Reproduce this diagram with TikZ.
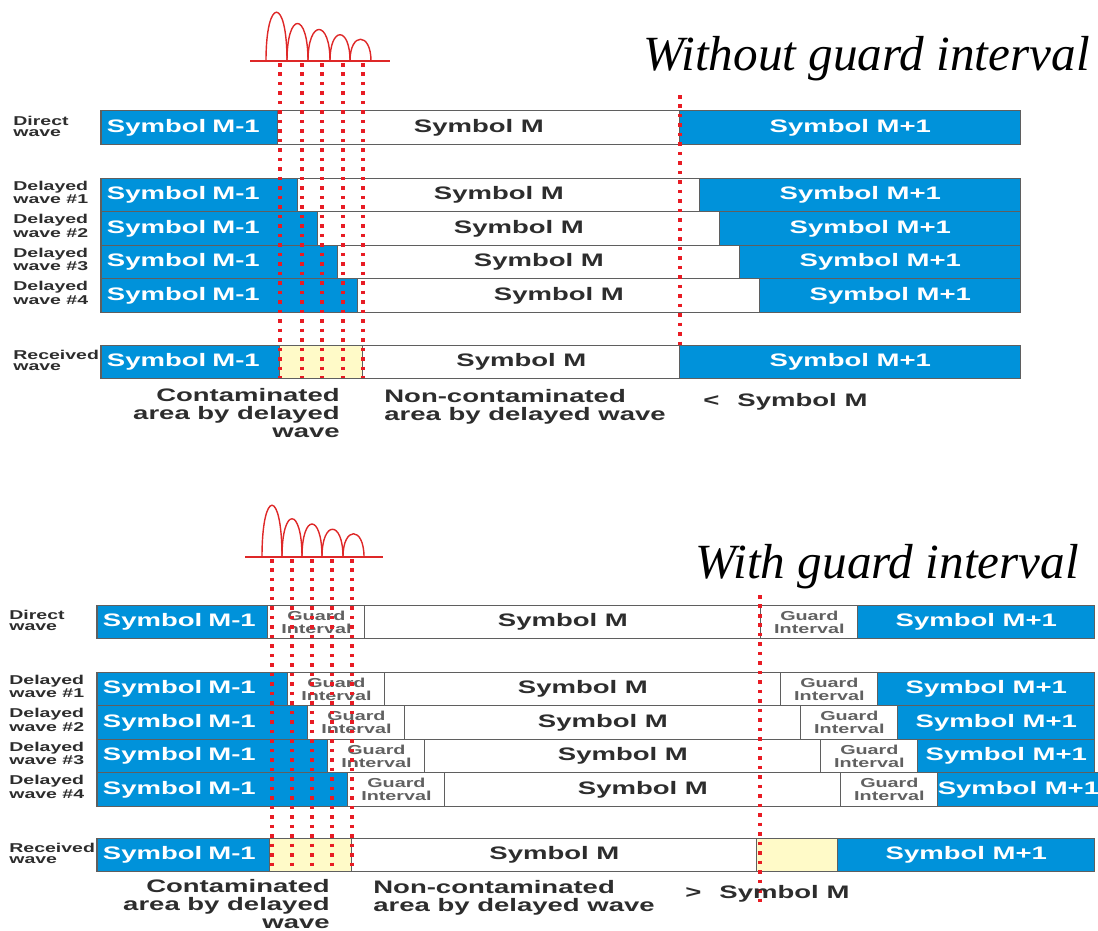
\documentclass[tikz,border=0pt]{standalone}
\usepackage{fontspec}
\setmainfont{Liberation Serif}
\newfontfamily\wavefont[FakeStretch=1.52]{Liberation Sans}
\usetikzlibrary{positioning}

\definecolor{symblue}{RGB}{0,146,218}
\definecolor{contam}{RGB}{255,250,200}
\definecolor{dotred}{RGB}{232,28,36}
\definecolor{pulsered}{RGB}{222,40,40}
\definecolor{inkgray}{RGB}{45,45,45}
\definecolor{edgegray}{RGB}{95,95,95}

\begin{document}
\begin{tikzpicture}[
  x=0.02cm, y=-0.02cm,
  cell/.style={draw=edgegray, line width=0.6pt, inner sep=0pt, outer sep=0pt, minimum height=0.67cm, text=inkgray, font=\wavefont\bfseries\fontsize{10.3}{11}\selectfont},
  prevsym/.style={cell, fill=symblue, text=white, anchor=west, align=left, inner xsep=0.12cm},
  cursym/.style={cell, fill=white},
  nextsym/.style={cell, fill=symblue, text=white},
  guard/.style={cell, fill=white, text=inkgray!75, align=center, minimum width=1.94cm, font=\wavefont\bfseries\fontsize{7.4}{7.4}\selectfont},
  dirty/.style={cell, fill=contam},
  rowlab/.style={anchor=base west, align=left, inner sep=0pt, text=inkgray, font=\wavefont\bfseries\fontsize{7.3}{6.3}\selectfont},
  note/.style={inner sep=0pt, text=inkgray, font=\wavefont\bfseries\fontsize{10.3}{10}\selectfont},
  title/.style={anchor=base west, inner sep=0pt, font=\itshape\fontsize{28}{30}\selectfont},
  pulse/.style={pulsered, line width=0.8pt},
  marker/.style={dotred, line width=2pt, dash pattern=on 2pt off 3.4pt},
]
\useasboundingbox (0,0) rectangle (1098,930);

%%%%% Without guard interval %%%%%
\node[title] (ttitle) at (643,70) {Without guard interval};

% Delay profile
\draw[pulse] (250,61) -- (390,61);
\draw[pulse] (266,61) .. controls (266,-4) and (287,-4) .. (287,61);
\draw[pulse] (287,61) .. controls (287,11) and (308,11) .. (308,61);
\draw[pulse] (308,61) .. controls (308,19) and (330,19) .. (330,61);
\draw[pulse] (330,61) .. controls (330,26) and (350,26) .. (350,61);
\draw[pulse] (350,61) .. controls (350,32) and (371,32) .. (371,61);

% Direct wave
\node[rowlab] (tlabd) at (13,136.5) {Direct\\wave};
\node[prevsym, text width=3.30cm] (tdp) at (101,127.5) {Symbol~M-1};
\node[cursym, minimum width=8.04cm, right=0pt of tdp] (tdm) {Symbol M};
\node[nextsym, minimum width=6.82cm, right=0pt of tdm] (tdn) {Symbol M+1};

% Delayed waves
\node[rowlab] (tlab1) at (13,203.5) {Delayed\\wave \#1};
\node[prevsym, text width=3.70cm] (t1p) at (101,195) {Symbol~M-1};
\node[cursym, minimum width=8.04cm, right=0pt of t1p] (t1m) {Symbol M};
\node[nextsym, minimum width=6.42cm, right=0pt of t1m] (t1n) {Symbol M+1};

\node[rowlab] (tlab2) at (13,237) {Delayed\\wave \#2};
\node[prevsym, text width=4.10cm] (t2p) at (101,228.5) {Symbol~M-1};
\node[cursym, minimum width=8.04cm, right=0pt of t2p] (t2m) {Symbol M};
\node[nextsym, minimum width=6.02cm, right=0pt of t2m] (t2n) {Symbol M+1};

\node[rowlab] (tlab3) at (13,270.5) {Delayed\\wave \#3};
\node[prevsym, text width=4.50cm] (t3p) at (101,262) {Symbol~M-1};
\node[cursym, minimum width=8.04cm, right=0pt of t3p] (t3m) {Symbol M};
\node[nextsym, minimum width=5.62cm, right=0pt of t3m] (t3n) {Symbol M+1};

\node[rowlab] (tlab4) at (13,304) {Delayed\\wave \#4};
\node[prevsym, text width=4.90cm] (t4p) at (101,295.5) {Symbol~M-1};
\node[cursym, minimum width=8.04cm, right=0pt of t4p] (t4m) {Symbol M};
\node[nextsym, minimum width=5.22cm, right=0pt of t4m] (t4n) {Symbol M+1};

% Received wave
\node[rowlab] (tlabr) at (13,370.5) {Received\\wave};
\node[prevsym, text width=3.34cm] (trp) at (101,362) {Symbol~M-1};
\node[dirty, minimum width=1.66cm, right=0pt of trp] (trd) {};
\node[cursym, minimum width=6.34cm, right=0pt of trd] (trm) {Symbol M};
\node[nextsym, minimum width=6.82cm, right=0pt of trm] (trn) {Symbol M+1};

% Path boundaries
\draw[marker] (280,63) -- (280,378);
\draw[marker] (302,63) -- (302,378);
\draw[marker] (322,63) -- (322,378);
\draw[marker] (343,63) -- (343,378);
\draw[marker] (363,63) -- (363,378);
\draw[marker] (680,95) -- (680,346);

% Notes
\node[note, align=right, anchor=base east] (tcont) at (340,437) {Contaminated\\area by delayed\\wave};
\node[note, align=left, anchor=base west] (tclean) at (384,420) {Non-contaminated\\area by delayed wave};
\node[note, anchor=base west] (tcmp) at (703,406) {<\quad Symbol M};

%%%%% With guard interval %%%%%
\node[title] (gtitle) at (695,578) {With guard interval};

% Delay profile
\draw[pulse] (245,557) -- (383,557);
\draw[pulse] (262,557) .. controls (262,488) and (282,488) .. (282,557);
\draw[pulse] (282,557) .. controls (282,506) and (302,506) .. (302,557);
\draw[pulse] (302,557) .. controls (302,513) and (322,513) .. (322,557);
\draw[pulse] (322,557) .. controls (322,520) and (343,520) .. (343,557);
\draw[pulse] (343,557) .. controls (343,526) and (364,526) .. (364,557);

% Direct wave
\node[rowlab] (glabd) at (9,630.5) {Direct\\wave};
\node[prevsym, text width=3.18cm] (gdp) at (97,622) {Symbol~M-1};
\node[guard, right=0pt of gdp] (gdg) {Guard\\Interval};
\node[cursym, minimum width=7.92cm, right=0pt of gdg] (gdm) {Symbol M};
\node[guard, right=0pt of gdm] (gdh) {Guard\\Interval};
\node[nextsym, minimum width=4.74cm, right=0pt of gdh] (gdn) {Symbol M+1};

% Delayed waves
\node[rowlab] (glab1) at (9,697.5) {Delayed\\wave \#1};
\node[prevsym, text width=3.58cm] (g1p) at (97,689) {Symbol~M-1};
\node[guard, right=0pt of g1p] (g1g) {Guard\\Interval};
\node[cursym, minimum width=7.92cm, right=0pt of g1g] (g1m) {Symbol M};
\node[guard, right=0pt of g1m] (g1h) {Guard\\Interval};
\node[nextsym, minimum width=4.34cm, right=0pt of g1h] (g1n) {Symbol M+1};

\node[rowlab] (glab2) at (9,731) {Delayed\\wave \#2};
\node[prevsym, text width=3.98cm] (g2p) at (97,722.5) {Symbol~M-1};
\node[guard, right=0pt of g2p] (g2g) {Guard\\Interval};
\node[cursym, minimum width=7.92cm, right=0pt of g2g] (g2m) {Symbol M};
\node[guard, right=0pt of g2m] (g2h) {Guard\\Interval};
\node[nextsym, minimum width=3.94cm, right=0pt of g2h] (g2n) {Symbol M+1};

\node[rowlab] (glab3) at (9,764.5) {Delayed\\wave \#3};
\node[prevsym, text width=4.38cm] (g3p) at (97,756) {Symbol~M-1};
\node[guard, right=0pt of g3p] (g3g) {Guard\\Interval};
\node[cursym, minimum width=7.92cm, right=0pt of g3g] (g3m) {Symbol M};
\node[guard, right=0pt of g3m] (g3h) {Guard\\Interval};
\node[nextsym, minimum width=3.54cm, right=0pt of g3h] (g3n) {Symbol M+1};

\node[rowlab] (glab4) at (9,798) {Delayed\\wave \#4};
\node[prevsym, text width=4.78cm] (g4p) at (97,789.5) {Symbol~M-1};
\node[guard, right=0pt of g4p] (g4g) {Guard\\Interval};
\node[cursym, minimum width=7.92cm, right=0pt of g4g] (g4m) {Symbol M};
\node[guard, right=0pt of g4m] (g4h) {Guard\\Interval};
\node[nextsym, minimum width=3.14cm, right=0pt of g4h] (g4n) {Symbol M+1};

% Received wave
\node[rowlab] (glabr) at (9,863.5) {Received\\wave};
\node[prevsym, text width=3.22cm] (grp) at (97,855) {Symbol~M-1};
\node[dirty, minimum width=1.64cm, right=0pt of grp] (grd) {};
\node[cursym, minimum width=8.10cm, right=0pt of grd] (grm) {Symbol M};
\node[dirty, minimum width=1.62cm, right=0pt of grm] (gre) {};
\node[nextsym, minimum width=5.14cm, right=0pt of gre] (grn) {Symbol M+1};

% Path boundaries
\draw[marker] (272,559) -- (272,872);
\draw[marker] (292,559) -- (292,872);
\draw[marker] (312,559) -- (312,872);
\draw[marker] (332,559) -- (332,872);
\draw[marker] (352,559) -- (352,872);
\draw[marker] (760,595) -- (760,905);

% Notes
\node[note, align=right, anchor=base east] (gcont) at (330,928) {Contaminated\\area by delayed\\wave};
\node[note, align=left, anchor=base west] (gclean) at (373,911) {Non-contaminated\\area by delayed wave};
\node[note, anchor=base west] (gcmp) at (685,898) {>\quad Symbol M};

\end{tikzpicture}
\end{document}
